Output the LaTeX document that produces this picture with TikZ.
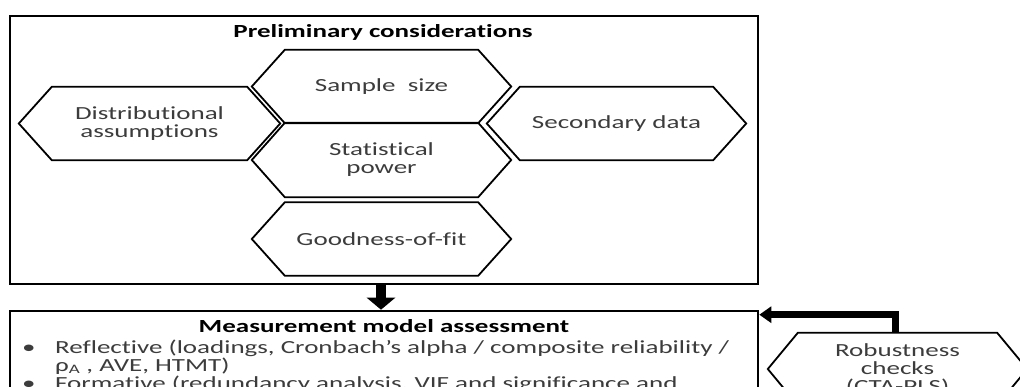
\documentclass[tikz,border=0pt]{standalone}
\usepackage{fontspec}
\setmainfont{Carlito}[FakeStretch=1.46, Ligatures=NoCommon]
\usetikzlibrary{arrows.meta}
\definecolor{txtgray}{RGB}{60,60,60}

% hexagonal outline around a named node: #1 node, #2 depth of the side points
\newcommand\hexoutline[2]{%
  \draw[hexline] (#1.north west) -- (#1.north east) -- ([xshift=#2]#1.east)
    -- (#1.south east) -- (#1.south west) -- ([xshift=-#2]#1.west) -- cycle;}

\begin{document}
\begin{tikzpicture}[x=1pt,y=-1pt,
  basefont/.style={font=\fontsize{18.5}{18}\selectfont},
  hexlabel/.style={basefont, minimum height=73pt, inner sep=0pt, align=center, text=txtgray},
  hexline/.style={line width=1.8pt, line join=miter},
  panel/.style={draw, line width=2.6pt, inner sep=0pt},
  heading/.style={font=\fontsize{18.5}{18}\selectfont\bfseries, inner sep=0pt, anchor=base},
  bodytext/.style={basefont, text=txtgray, inner sep=0pt, anchor=base west},
  bigarrow/.style={line width=10pt, -{Triangle[width=28pt,length=12pt]}},
  backarrow/.style={line width=7pt, line join=miter, -{Triangle[width=16pt,length=12pt]}}]
\clip (0,0) rectangle (1020,386);

% upper panel
\node[panel, minimum width=748pt, minimum height=268pt] (prelim) at (384,150) {};
\node[heading] (ptitle) at (383,37) {Preliminary considerations};

\node[hexlabel, minimum width=193pt] (sample) at (381.5,86.5) {Sample\ \ size};
\node[hexlabel, minimum width=193pt, minimum height=74pt] (power) at (381.5,160) {Statistical\\power};
\node[hexlabel, minimum width=193pt] (fit) at (381.5,239) {Goodness-of-fit};
\node[hexlabel, minimum width=195pt] (distr) at (149.5,123.5) {Distributional\\assumptions};
\node[hexlabel, minimum width=193pt] (second) at (616.5,123.5) {Secondary data};
\hexoutline{sample}{33pt}
\hexoutline{power}{33pt}
\hexoutline{fit}{33pt}
\hexoutline{distr}{33pt}
\hexoutline{second}{33pt}

% lower panel
\node[panel, minimum width=748pt, minimum height=170pt] (meas) at (384,396) {};
\node[heading] (mtitle) at (384,332) {Measurement model assessment};
\node[bodytext] (b1) at (22,353) {•};
\node[bodytext] (l1) at (55,353) {Reflective (loadings, Cronbach’s alpha / composite reliability /};
\node[bodytext] (l2) at (55,371) {ρ\textsubscript{A} , AVE, HTMT)};
\node[bodytext] (b2) at (22,389) {•};
\node[bodytext] (l3) at (55,389) {Formative (redundancy analysis, VIF and significance and};

% robustness checks
\node[hexlabel, minimum width=199pt, minimum height=72pt] (robust) at (897.5,369) {Robustness\\checks\\(CTA-PLS)};
\hexoutline{robust}{30pt}

% connectors
\draw[bigarrow] ([xshift=-3pt]prelim.south) -- ([xshift=-3pt]meas.north);
\draw[backarrow] ([xshift=-2.5pt]robust.north) |- ([yshift=-5pt]meas.north east);
\end{tikzpicture}
\end{document}
